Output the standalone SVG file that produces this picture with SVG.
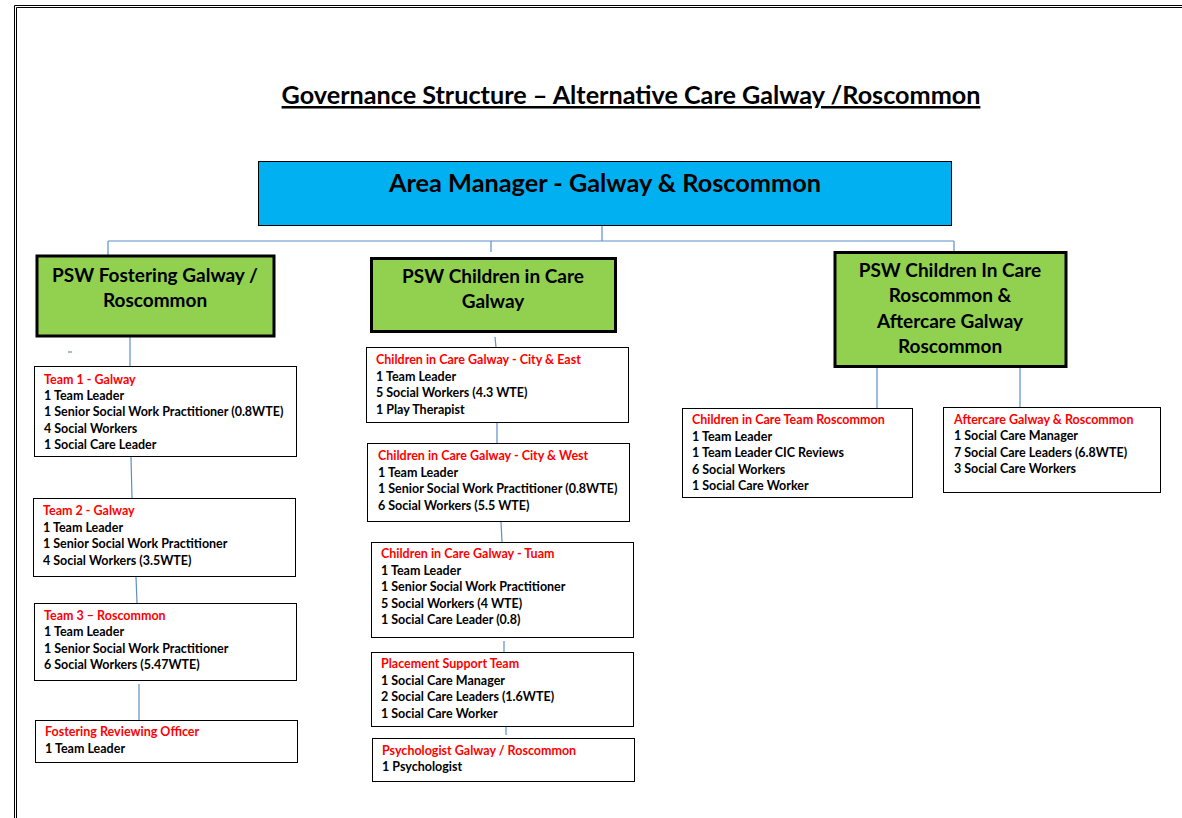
<svg xmlns="http://www.w3.org/2000/svg" width="1182" height="818" viewBox="0 0 1182 818">
<style>
.t{font-family:Lato,"Liberation Sans",sans-serif;font-weight:bold;fill:#000}
.b{font-size:12.5px}
.h{fill:#FF0000}
.g{font-size:19px;text-anchor:middle}
.box{fill:#fff;stroke:#000;stroke-width:1}
.grn{fill:#92D050;stroke:#000;stroke-width:3}
.c{stroke:#5B8FCB;stroke-width:1.2;fill:none}
</style>
<rect width="1182" height="818" fill="#fff"/>
<g id="page-border" fill="none" stroke="#000" stroke-width="1">
<path d="M14.5 818 V5.5 H1182"/>
<path d="M16.5 818 V7.5 H1182"/>
</g>
<text class="t" x="631" y="104" font-size="25.2" text-anchor="middle" text-decoration="underline">Governance Structure – Alternative Care Galway /Roscommon</text>
<g id="connectors">
<path class="c" d="M602 226 V241 M108 241 H954 M108 241 V255 M491 241 V252 M954 241 V260"/>
<path class="c" d="M130 337 V366 M131 457 L132 498 M136 577 L137 603 M139 684 V720"/>
<path class="c" d="M495 337 L496 347 M497 422 V443 M501 522 L502 542 M504 641 V655 M506 727 V735"/>
<path class="c" d="M877 367 V408 M1020 367 V407"/>
<path class="c" d="M68 352 H72"/>
</g>
<g id="area-manager">
<rect x="258.5" y="161.5" width="693" height="64" fill="#00B0F0" stroke="#000" stroke-width="1"/>
<text class="t" x="605" y="192" font-size="25.3" text-anchor="middle">Area Manager - Galway &amp; Roscommon</text>
</g>
<g id="psw-fostering">
<rect class="grn" x="37" y="256" width="237" height="80"/>
<text class="t g" x="155" y="282">PSW Fostering Galway /</text>
<text class="t g" x="155" y="307">Roscommon</text>
</g>
<g id="psw-cic-galway">
<rect class="grn" x="371.5" y="258.5" width="244" height="73"/>
<text class="t g" x="493" y="283">PSW Children in Care</text>
<text class="t g" x="493" y="308">Galway</text>
</g>
<g id="psw-cic-roscommon">
<rect class="grn" x="835" y="252.5" width="231" height="114"/>
<text class="t g" x="950" y="277">PSW Children In Care</text>
<text class="t g" x="950" y="302">Roscommon &amp;</text>
<text class="t g" x="950" y="328">Aftercare Galway</text>
<text class="t g" x="950" y="353">Roscommon</text>
</g>
<g id="team1">
<rect class="box" x="34.5" y="366.5" width="262" height="90"/>
<text class="t b" x="44"><tspan class="h" x="44" y="384">Team 1 - Galway</tspan><tspan x="44" y="400">1 Team Leader</tspan><tspan x="44" y="416">1 Senior Social Work Practitioner (0.8WTE)</tspan><tspan x="44" y="433">4 Social Workers</tspan><tspan x="44" y="449">1 Social Care Leader</tspan></text>
</g>
<g id="team2">
<rect class="box" x="33.5" y="498.5" width="262" height="78"/>
<text class="t b"><tspan class="h" x="43" y="515">Team 2 - Galway</tspan><tspan x="43" y="532">1 Team Leader</tspan><tspan x="43" y="548">1 Senior Social Work Practitioner</tspan><tspan x="43" y="565">4 Social Workers (3.5WTE)</tspan></text>
</g>
<g id="team3">
<rect class="box" x="34.5" y="603.5" width="262" height="77"/>
<text class="t b"><tspan class="h" x="44" y="620">Team 3 – Roscommon</tspan><tspan x="44" y="636">1 Team Leader</tspan><tspan x="44" y="653">1 Senior Social Work Practitioner</tspan><tspan x="44" y="669">6 Social Workers (5.47WTE)</tspan></text>
</g>
<g id="fostering-reviewing-officer">
<rect class="box" x="35.5" y="720.5" width="262" height="42"/>
<text class="t b"><tspan class="h" x="45" y="736">Fostering Reviewing Officer</tspan><tspan x="45" y="753">1 Team Leader</tspan></text>
</g>
<g id="cic-city-east">
<rect class="box" x="366.5" y="347.5" width="262" height="75"/>
<text class="t b"><tspan class="h" x="376" y="364">Children in Care Galway - City &amp; East</tspan><tspan x="376" y="381">1 Team Leader</tspan><tspan x="376" y="397">5 Social Workers (4.3 WTE)</tspan><tspan x="376" y="414">1 Play Therapist</tspan></text>
</g>
<g id="cic-city-west">
<rect class="box" x="367.5" y="443.5" width="262" height="78"/>
<text class="t b"><tspan class="h" x="378" y="460">Children in Care Galway - City &amp; West</tspan><tspan x="378" y="477">1 Team Leader</tspan><tspan x="378" y="493">1 Senior Social Work Practitioner (0.8WTE)</tspan><tspan x="378" y="510">6 Social Workers (5.5 WTE)</tspan></text>
</g>
<g id="cic-tuam">
<rect class="box" x="371.5" y="542.5" width="262" height="95"/>
<text class="t b"><tspan class="h" x="381" y="558">Children in Care Galway - Tuam</tspan><tspan x="381" y="575">1 Team Leader</tspan><tspan x="381" y="591">1 Senior Social Work Practitioner</tspan><tspan x="381" y="608">5 Social Workers (4 WTE)</tspan><tspan x="381" y="624">1 Social Care Leader (0.8)</tspan></text>
</g>
<g id="placement-support">
<rect class="box" x="371.5" y="652.5" width="262" height="74"/>
<text class="t b"><tspan class="h" x="381" y="668">Placement Support Team</tspan><tspan x="381" y="685">1 Social Care Manager</tspan><tspan x="381" y="701">2 Social Care Leaders (1.6WTE)</tspan><tspan x="381" y="718">1 Social Care Worker</tspan></text>
</g>
<g id="psychologist">
<rect class="box" x="372.5" y="738.5" width="262" height="43"/>
<text class="t b"><tspan class="h" x="382" y="755">Psychologist Galway / Roscommon</tspan><tspan x="382" y="771">1 Psychologist</tspan></text>
</g>
<g id="cic-team-roscommon">
<rect class="box" x="682.5" y="408.5" width="230" height="89"/>
<text class="t b"><tspan class="h" x="692" y="424">Children in Care Team Roscommon</tspan><tspan x="692" y="441">1 Team Leader</tspan><tspan x="692" y="457">1 Team Leader CIC Reviews</tspan><tspan x="692" y="474">6 Social Workers</tspan><tspan x="692" y="490">1 Social Care Worker</tspan></text>
</g>
<g id="aftercare">
<rect class="box" x="943.5" y="407.5" width="217" height="85"/>
<text class="t b"><tspan class="h" x="954" y="424">Aftercare Galway &amp; Roscommon</tspan><tspan x="954" y="440">1 Social Care Manager</tspan><tspan x="954" y="457">7 Social Care Leaders (6.8WTE)</tspan><tspan x="954" y="473">3 Social Care Workers</tspan></text>
</g>
</svg>
